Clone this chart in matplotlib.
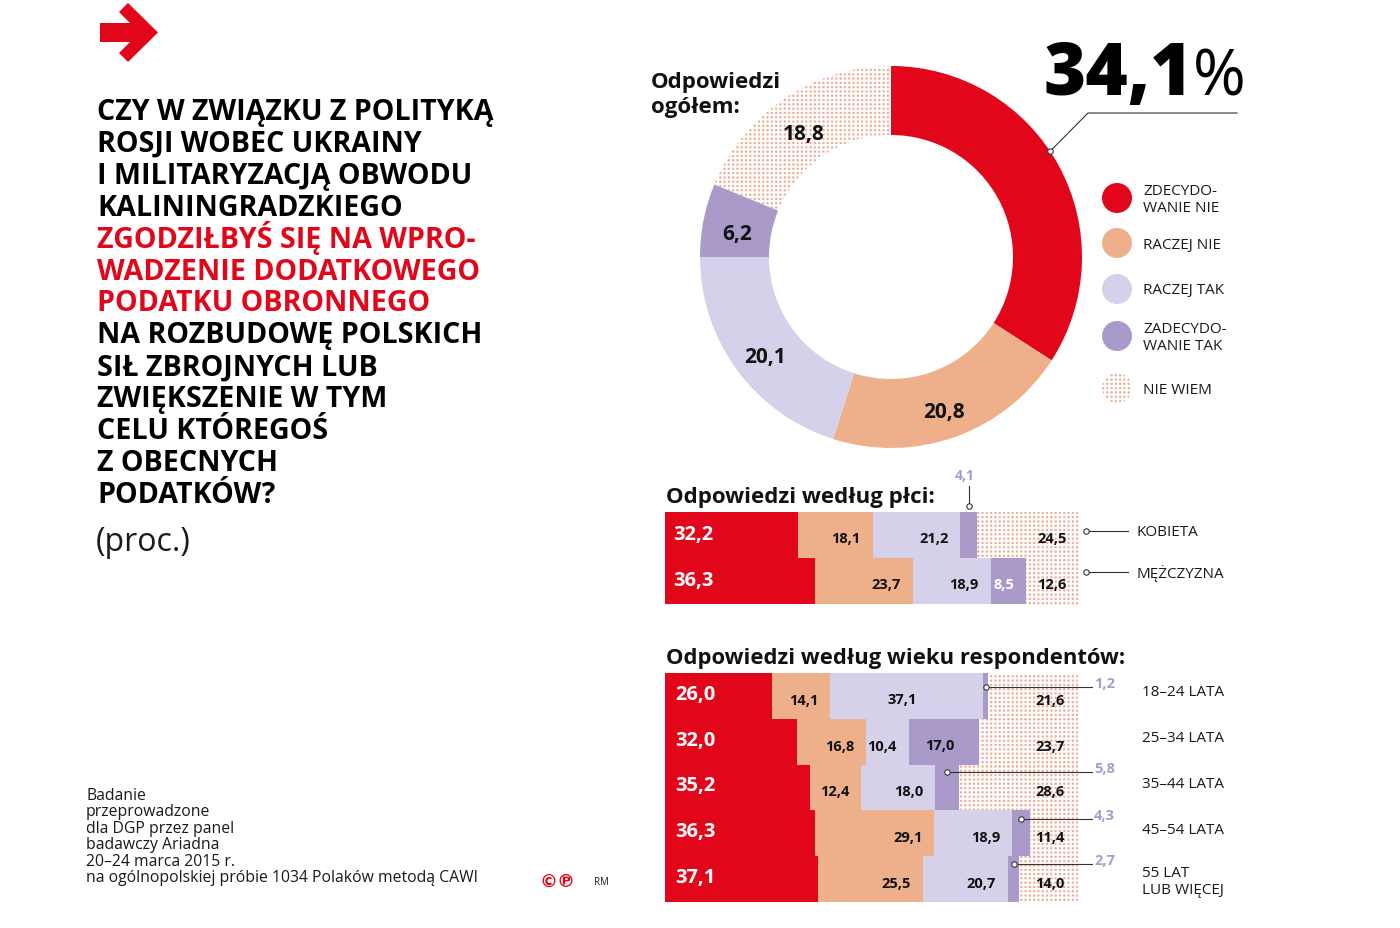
import matplotlib
matplotlib.use("Agg")
import matplotlib.pyplot as plt
from matplotlib.patches import Polygon, Circle
from matplotlib.colors import to_rgb
import numpy as np

plt.rcParams['font.family'] = ['Open Sans', 'DejaVu Sans']

# ---------------- data ----------------
categories = ["ZDECYDOWANIE NIE", "RACZEJ NIE", "RACZEJ TAK", "ZDECYDOWANIE TAK", "NIE WIEM"]
legend_labels = ["ZDECYDO-\nWANIE NIE", "RACZEJ NIE", "RACZEJ TAK", "ZADECYDO-\nWANIE TAK", "NIE WIEM"]
overall = [34.1, 20.8, 20.1, 6.2, 18.8]

gender_labels = ["KOBIETA", "MĘŻCZYZNA"]
gender_values = [
    [32.2, 18.1, 21.2, 4.1, 24.5],
    [36.3, 23.7, 18.9, 8.5, 12.6],
]

age_labels = ["18–24 LATA", "25–34 LATA", "35–44 LATA", "45–54 LATA", "55 LAT\nLUB WIĘCEJ"]
age_values = [
    [26.0, 14.1, 37.1, 1.2, 21.6],
    [32.0, 16.8, 10.4, 17.0, 23.7],
    [35.2, 12.4, 18.0, 5.8, 28.6],
    [36.3, 29.1, 18.9, 4.3, 11.4],
    [37.1, 25.5, 20.7, 2.7, 14.0],
]

# ---------------- style ----------------
RED = "#e2061a"
PEACH = "#eeb08b"
LAV = "#d6d1ea"
PURP = "#a99ac9"
DOT = "#eeae98"
colors = [RED, PEACH, LAV, PURP, "none"]
CALL = "#a99ac9"
LINEC = "#333333"

W, H = 1400, 929
fig = plt.figure(figsize=(W / 100, H / 100), dpi=100)
fig.patch.set_facecolor("white")


def fx(x):
    return x / W


def fy(y):
    return 1 - y / H


def ftext(x, y, s, **kw):
    return fig.text(fx(x), fy(y), s, **kw)


def fline(xs, ys, **kw):
    fig.add_artist(plt.Line2D([fx(v) for v in xs], [fy(v) for v in ys],
                              transform=fig.transFigure, **kw))


def fdot(x, y, r=2.6):
    fig.add_artist(plt.Line2D([fx(x)], [fy(y)], marker='o', markersize=r * 1.5,
                              markerfacecolor='white', markeredgecolor=LINEC,
                              markeredgewidth=0.8, transform=fig.transFigure,
                              zorder=5))


def fmt(v):
    return f"{v:.1f}".replace('.', ',')


# dotted texture (figure-wide pixel grid) used as the "NIE WIEM" fill
SP = 4.3
yy, xx = np.mgrid[0:H, 0:W].astype(float)
dx = (xx + 0.5) % SP - SP / 2
dy = (yy + 0.5) % SP - SP / 2
dist = np.hypot(dx, dy)
alpha = np.clip(1.7 - dist, 0, 1)
tex = np.zeros((H, W, 4))
tex[..., :3] = to_rgb(DOT)
tex[..., 3] = alpha


def dot_fill(patch):
    patch.set_facecolor('none')
    im = fig.figimage(tex, xo=0, yo=0, origin='upper', zorder=-1)
    im.set_clip_path(patch)


# ---------------- arrow icon ----------------
arrow_px = [(100, 24), (130, 24), (119, 13), (128, 4), (158, 33.5), (128, 63),
            (119, 54), (130, 43), (100, 43)]
fig.add_artist(Polygon([(fx(a), fy(b)) for a, b in arrow_px], closed=True,
                       facecolor=RED, edgecolor='none', transform=fig.transFigure))

# ---------------- title ----------------
title_lines = [
    ("CZY W ZWIĄZKU Z POLITYKĄ", "black"),
    ("ROSJI WOBEC UKRAINY", "black"),
    ("I MILITARYZACJĄ OBWODU", "black"),
    ("KALININGRADZKIEGO", "black"),
    ("ZGODZIŁBYŚ SIĘ NA WPRO-", RED),
    ("WADZENIE DODATKOWEGO", RED),
    ("PODATKU OBRONNEGO", RED),
    ("NA ROZBUDOWĘ POLSKICH", "black"),
    ("SIŁ ZBROJNYCH LUB", "black"),
    ("ZWIĘKSZENIE W TYM", "black"),
    ("CELU KTÓREGOŚ", "black"),
    ("Z OBECNYCH", "black"),
    ("PODATKÓW?", "black"),
]
for i, (s, c) in enumerate(title_lines):
    ftext(97, 120 + 31.9 * i, s, fontsize=20.6, fontweight='bold', color=c,
          ha='left', va='baseline')
ftext(96, 551, "(proc.)", fontsize=23, color="#1a1a1a", ha='left', va='baseline')

notes = ["Badanie", "przeprowadzone", "dla DGP przez panel", "badawczy Ariadna",
         "20–24 marca 2015 r.", "na ogólnopolskiej próbie 1034 Polaków metodą CAWI"]
for i, s in enumerate(notes):
    ftext(86, 800 + 16.4 * i, s, fontsize=11.3, color="#1a1a1a", ha='left', va='baseline')
ftext(540, 887, "©℗", fontsize=13, color=RED, fontweight='bold', ha='left', va='baseline',
      family=['DejaVu Sans'])
ftext(594, 885, "RM", fontsize=7, color="#1a1a1a", ha='left', va='baseline')

# ---------------- donut ----------------
cx, cy, R, Rin = 891, 258, 191, 122
axd = fig.add_axes([fx(cx - R), fy(cy + R), 2 * R / W, 2 * R / H])
wedges, _ = axd.pie(overall, colors=colors, startangle=90, counterclock=False,
                    radius=1, wedgeprops=dict(width=(R - Rin) / R, linewidth=0))
axd.set_xlim(-1, 1)
axd.set_ylim(-1, 1)
axd.set_aspect('equal')
axd.axis('off')
dot_fill(wedges[4])
rlab = 0.82
for w, v in list(zip(wedges, overall))[1:]:
    ang = np.deg2rad((w.theta1 + w.theta2) / 2)
    axd.text(rlab * np.cos(ang), rlab * np.sin(ang) - 0.035, fmt(v),
             ha='center', va='center', fontsize=15, fontweight='bold', color='#111111',
             zorder=6)

ftext(651, 88, "Odpowiedzi", fontsize=16, fontweight='bold', color='#111111', va='baseline')
ftext(651, 113, "ogółem:", fontsize=16, fontweight='bold', color='#111111', va='baseline')

# big value callout
big = ftext(1044, 95, fmt(overall[0]), fontsize=52, fontweight='heavy',
            color='black', ha='left', va='baseline')
renderer = fig.canvas.get_renderer()
bb = big.get_window_extent(renderer=renderer)
fig.text((bb.x1 - 1) / W, fy(95), "%", fontsize=46, fontweight='normal', color='black',
         ha='left', va='baseline')
ang = np.deg2rad(33.6)
px0, py0 = cx + R * np.cos(ang), cy - R * np.sin(ang)
fline([px0, 1088, 1237], [py0, 114, 114], color=LINEC, lw=0.8)
fdot(px0, py0)

# legend
leg_y = [199, 244, 290, 337, 389]
for c, lab, y in zip(colors, legend_labels, leg_y):
    circ = Circle((fx(1117), fy(y)), 15 / W, transform=fig.transFigure,
                  facecolor=c, edgecolor='none')
    circ.set_height(2 * 15 / H)
    fig.add_artist(circ)
    if c == "none":
        dot_fill(circ)
    ftext(1143, y + 1, lab, fontsize=11, color='#1a1a1a', ha='left', va='center',
          linespacing=1.25)


# ---------------- stacked bars helper ----------------
def stacked(ax, data):
    n = len(data)
    for i, row in enumerate(data):
        left = 0
        for j, v in enumerate(row):
            b = ax.barh(i, v, left=left, height=1.0, color=colors[j], linewidth=0)
            if j == 4:
                dot_fill(b[0])
            left += v
    ax.set_xlim(0, 100)
    ax.set_ylim(n - 0.5, -0.5)
    ax.axis('off')


# ---------------- gender ----------------
axg = fig.add_axes([fx(665), fy(605), 413 / W, 92 / H])
stacked(axg, gender_values)
ftext(666, 503, "Odpowiedzi według płci:", fontsize=16, fontweight='bold',
      color='#111111', va='baseline')

for i, row in enumerate(gender_values):
    cum = np.cumsum(row)
    axg.annotate(fmt(row[0]), xy=(0, i), xytext=(8, 1),
                 textcoords='offset pixels', ha='left', va='center', fontsize=14.5,
                 fontweight='bold', color='white', zorder=6)
    for j in range(1, 5):
        if row[j] < 5:
            continue
        col = 'white' if j == 3 else '#111111'
        axg.annotate(fmt(row[j]), xy=(cum[j], i),
                     xytext=(-12, -3), textcoords='offset pixels', ha='right',
                     va='center', fontsize=10.5, fontweight='bold', color=col, zorder=6)
# small value callout (women, strongly yes)
row = gender_values[0]
xmid = sum(row[:3]) + row[3] / 2
xpx = axg.transData.transform((xmid, -0.5))[0]
fline([xpx, xpx], [507, 487], color=LINEC, lw=0.8)
fdot(xpx, 507)
ftext(xpx - 4, 476, fmt(row[3]), fontsize=10, fontweight='bold',
      color=CALL, ha='center', va='center')

for lab, y in zip(gender_labels, [532, 573]):
    fline([1086, 1128], [y, y], color=LINEC, lw=0.8)
    fdot(1086, y)
    ftext(1136, y + 1, lab, fontsize=11, color='#1a1a1a', ha='left', va='center')

# ---------------- age ----------------
axa = fig.add_axes([fx(665), fy(903), 412 / W, 229 / H])
stacked(axa, age_values)
ftext(666, 664, "Odpowiedzi według wieku respondentów:", fontsize=15.8, fontweight='bold',
      color='#111111', va='baseline')

centered = {(0, 2), (1, 3)}
row_top_px = 674
row_h_px = 229 / 5
callout_dy = [14, 10, 7, 9, 8]
for i, row in enumerate(age_values):
    cum = np.cumsum(row)
    axa.annotate(fmt(row[0]), xy=(0, i), xytext=(10, 2),
                 textcoords='offset pixels', ha='left', va='center', fontsize=14.5,
                 fontweight='bold', color='white', zorder=6)
    for j in range(1, 5):
        v = row[j]
        if j == 3 and v < 7:
            xm = cum[j] - v / 2
            xpx = axa.transData.transform((xm, i))[0]
            ypx = row_top_px + row_h_px * i + callout_dy[i]
            fline([xpx, 1092], [ypx, ypx], color=LINEC, lw=0.8, zorder=5)
            fdot(xpx, ypx)
            ftext(1094, ypx - 4, fmt(v), fontsize=10.5,
                  fontweight='bold', color=CALL, ha='left', va='center')
            continue
        if (i, j) in centered:
            axa.annotate(fmt(v), xy=(cum[j] - v / 2, i), xytext=(-4, -3),
                         textcoords='offset pixels', ha='center', va='center',
                         fontsize=10.5, fontweight='bold', color='#111111', zorder=6)
        else:
            axa.annotate(fmt(v), xy=(cum[j], i), xytext=(-12, -4),
                         textcoords='offset pixels', ha='right', va='center',
                         fontsize=10.5, fontweight='bold', color='#111111', zorder=6)

for i, lab in enumerate(age_labels):
    y = row_top_px + row_h_px * i + row_h_px / 2 - 4
    if "\n" in lab:
        y += 6
    ftext(1142, y, lab, fontsize=11, color='#1a1a1a', ha='left', va='center',
          linespacing=1.2)

fig.savefig("out.png", dpi=100, facecolor='white')
